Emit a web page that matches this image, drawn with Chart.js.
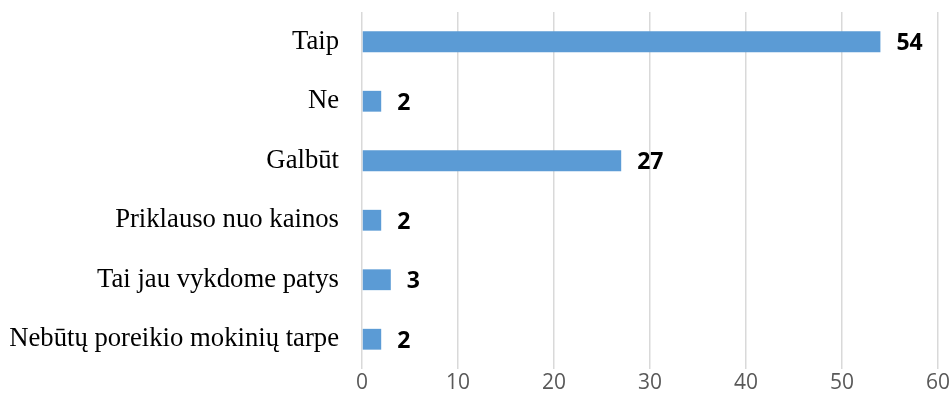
<!DOCTYPE html>
<html>
<head>
<meta charset="utf-8">
<script src="https://cdn.jsdelivr.net/npm/chart.js@4/dist/chart.umd.min.js"></script>
<style>
  html, body { margin: 0; padding: 0; background: #fff; }
  #wrap { width: 951px; height: 410px; }
</style>
</head>
<body>
<div id="wrap"><canvas id="chart"></canvas></div>
<script>
// Données
const categories = [
  'Taip',
  'Ne',
  'Galbūt',
  'Priklauso nuo kainos',
  'Tai jau vykdome patys',
  'Nebūtų poreikio mokinių tarpe'
];
const answers = [54, 2, 27, 2, 3, 2];
const xTicks = [0, 10, 20, 30, 40, 50, 60];

// Petit plugin pour écrire la valeur au bout de chaque barre
const valueLabels = {
  id: 'valueLabels',
  afterDatasetsDraw(chart) {
    const ctx = chart.ctx;
    const meta = chart.getDatasetMeta(0);
    ctx.save();
    ctx.font = 'bold 23px "Open Sans", sans-serif';
    ctx.fillStyle = '#000';
    ctx.textAlign = 'left';
    ctx.textBaseline = 'middle';
    meta.data.forEach((bar, i) => {
      ctx.fillText(String(answers[i]), bar.x + 16, bar.y + 2);
    });
    ctx.restore();
  }
};

new Chart(document.getElementById('chart'), {
  type: 'bar',
  data: {
    labels: categories,
    datasets: [{
      data: answers,
      backgroundColor: '#5B9BD5',
      barPercentage: 0.7,
      categoryPercentage: 0.5
    }]
  },
  plugins: [valueLabels],
  options: {
    indexAxis: 'y',
    responsive: true,
    maintainAspectRatio: false,
    animation: false,
    layout: { padding: { top: 12, right: 13, left: 0, bottom: 0 } },
    plugins: {
      legend: { display: false },
      tooltip: { enabled: false }
    },
    scales: {
      x: {
        min: 0,
        max: 60,
        afterBuildTicks: (scale) => {
          scale.ticks = xTicks.map(v => ({ value: v }));
        },
        afterFit: (scale) => {
          scale.height = 41;
          scale.paddingLeft = 0;
          scale.paddingRight = 0;
        },
        border: { display: false },
        grid: { color: '#d9d9d9', lineWidth: 1.5, drawTicks: false },
        ticks: {
          color: '#595959',
          padding: 1,
          font: { family: '"Open Sans", sans-serif', size: 21 }
        }
      },
      y: {
        afterFit: (scale) => {
          scale.width = 362;
          // on enlève la marge verticale ajoutée par le padding des étiquettes
          scale.paddingTop = 0;
          scale.paddingBottom = 0;
        },
        border: { display: false },
        grid: { display: false, drawTicks: false },
        ticks: {
          color: '#000',
          padding: 23,
          font: { family: '"Liberation Serif", "Times New Roman", serif', size: 26.7 }
        }
      }
    }
  }
});
</script>
</body>
</html>
